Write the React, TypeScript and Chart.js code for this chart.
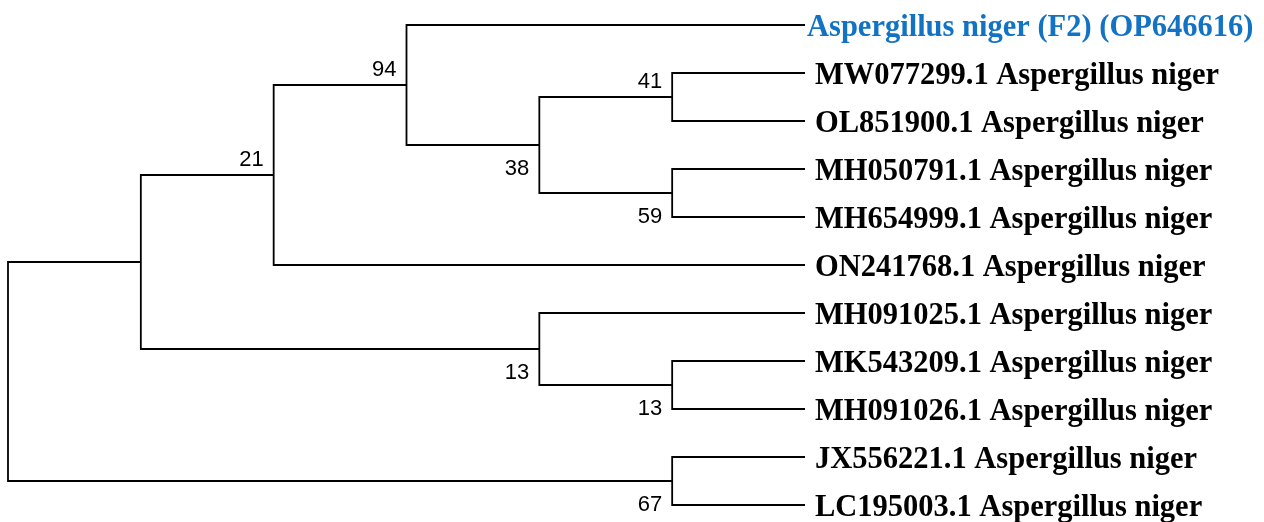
import React, { useEffect, useRef } from "react";
import { Chart, registerables } from "chart.js";

Chart.register(...registerables);

// Leaf (taxon) names, top to bottom
const leafNames = [
  "Aspergillus niger (F2) (OP646616)",
  "MW077299.1 Aspergillus niger",
  "OL851900.1 Aspergillus niger",
  "MH050791.1 Aspergillus niger",
  "MH654999.1 Aspergillus niger",
  "ON241768.1 Aspergillus niger",
  "MH091025.1 Aspergillus niger",
  "MK543209.1 Aspergillus niger",
  "MH091026.1 Aspergillus niger",
  "JX556221.1 Aspergillus niger",
  "LC195003.1 Aspergillus niger",
];
const highlightLeaf = 0;

// Internal nodes, their children (L# = leaf index) and bootstrap values
const nodeIds = ["root", "A", "N21", "N94", "N38", "N41", "N59", "N13a", "N13b", "N67"];
const nodeChildren = [
  ["A", "N67"],
  ["N21", "N13a"],
  ["N94", "L5"],
  ["L0", "N38"],
  ["N41", "N59"],
  ["L1", "L2"],
  ["L3", "L4"],
  ["L6", "N13b"],
  ["L7", "L8"],
  ["L9", "L10"],
];
const bootstrap = [null, null, 21, 94, 38, 41, 59, 13, 13, 67];

type Pos = { x: number; y: number };

function layoutTree() {
  const heights: Record<string, number> = {};
  const ys: Record<string, number> = {};
  const height = (id: string): number => {
    if (id in heights) return heights[id];
    if (id.startsWith("L")) {
      heights[id] = 0;
      ys[id] = parseInt(id.slice(1), 10);
      return 0;
    }
    const k = nodeIds.indexOf(id);
    const ch = nodeChildren[k];
    const h = 1 + Math.max(...ch.map(height));
    heights[id] = h;
    ys[id] = (ys[ch[0]] + ys[ch[ch.length - 1]]) / 2;
    return h;
  };
  const maxH = height("root");
  const pos: Record<string, Pos> = {};
  Object.keys(heights).forEach((id) => {
    pos[id] = { x: maxH - heights[id], y: ys[id] };
  });
  return { pos, maxH };
}

export default function App() {
  const ref = useRef<HTMLCanvasElement | null>(null);

  useEffect(() => {
    if (!ref.current) return;
    const { pos, maxH } = layoutTree();

    const datasets = nodeIds.map((id, k) => {
      const ch = nodeChildren[k];
      const p = pos[id];
      const first = pos[ch[0]];
      const last = pos[ch[ch.length - 1]];
      return {
        data: [
          { x: first.x, y: first.y },
          { x: p.x, y: first.y },
          { x: p.x, y: last.y },
          { x: last.x, y: last.y },
        ],
        showLine: true,
        borderColor: "#000000",
        borderWidth: 1.8,
        borderJoinStyle: "miter" as const,
        pointRadius: 0,
        tension: 0,
        fill: false,
        clip: false as any,
      };
    });

    // parent lookup for bootstrap placement (first child -> above, else below)
    const parentOf: Record<string, { parent: string; index: number }> = {};
    nodeIds.forEach((id, k) => {
      nodeChildren[k].forEach((c, i) => (parentOf[c] = { parent: id, index: i }));
    });

    const labelPlugin = {
      id: "treeLabels",
      afterDatasetsDraw(chart: any) {
        const ctx = chart.ctx;
        const xs = chart.scales.x;
        const ysc = chart.scales.y;
        ctx.save();
        // leaf names
        ctx.textAlign = "left";
        ctx.textBaseline = "alphabetic";
        ctx.font = 'bold 30.5px "Liberation Serif", "Times New Roman", serif';
        leafNames.forEach((name, i) => {
          const px = xs.getPixelForValue(maxH);
          const py = ysc.getPixelForValue(i);
          const hl = i === highlightLeaf;
          ctx.fillStyle = hl ? "#1273C4" : "#000000";
          ctx.fillText(name, px + (hl ? 2 : 10), py + 10.5);
        });
        // bootstrap values
        ctx.font = '22px "Liberation Sans", Arial, sans-serif';
        ctx.fillStyle = "#000000";
        ctx.textAlign = "right";
        nodeIds.forEach((id, k) => {
          const b = bootstrap[k];
          if (b === null) return;
          const p = pos[id];
          const px = xs.getPixelForValue(p.x);
          const py = ysc.getPixelForValue(p.y);
          const above = parentOf[id] && parentOf[id].index === 0;
          ctx.fillText(String(b), px - 10, above ? py - 9.5 : py + 30);
        });
        ctx.restore();
      },
    };

    const chart = new Chart(ref.current, {
      type: "scatter",
      data: { datasets: datasets as any },
      options: {
        animation: false,
        responsive: true,
        maintainAspectRatio: false,
        events: [],
        layout: { padding: { left: 8, right: 459, top: 25, bottom: 17 } },
        plugins: { legend: { display: false }, tooltip: { enabled: false } },
        scales: {
          x: { type: "linear", min: 0, max: maxH, display: false },
          y: { type: "linear", min: 0, max: leafNames.length - 1, reverse: true, display: false },
        },
      },
      plugins: [labelPlugin],
    });
    return () => chart.destroy();
  }, []);

  return (
    <div style={{ position: "fixed", left: 0, top: 0, width: 1264, height: 522, background: "#ffffff" }}>
      <canvas ref={ref} />
    </div>
  );
}
